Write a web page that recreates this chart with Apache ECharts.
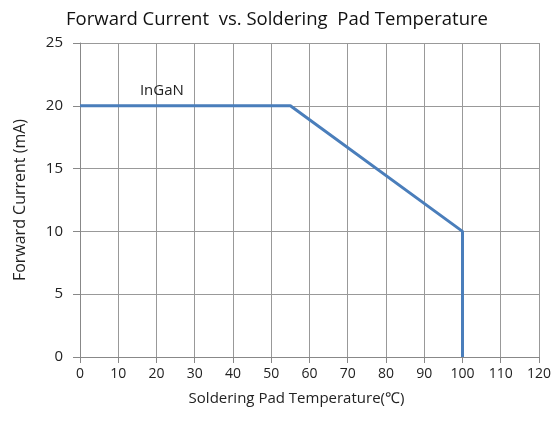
<!DOCTYPE html>
<html><head><meta charset="utf-8">
<script src="https://cdn.jsdelivr.net/npm/echarts@6/dist/echarts.min.js"></script>
<style>html,body{margin:0;padding:0;background:#fff}#c{width:554px;height:421px}</style>
</head><body><div id="c"></div>
<script>
const titleText = "Forward Current  vs. Soldering  Pad Temperature";
const xName = "Soldering Pad Temperature(\u2103)";
const yName = "Forward Current (mA)";
const seriesName = "InGaN";
const temps = [0, 55, 100, 100];
const currents = [20, 20, 10, 0];
const labelPos = [21.4, 21.2];

const chart = echarts.init(document.getElementById('c'));
const font = "'Open Sans', 'Liberation Sans', sans-serif";
chart.setOption({
  animation: false,
  title: {text: titleText, left: 'center', top: 5,
    textStyle: {fontFamily: font, fontSize: 18.5, fontWeight: 'normal', color: '#111'}},
  grid: {left: 80, right: 14, top: 43, bottom: 64},
  xAxis: {type: 'value', min: 0, max: 120, interval: 10,
    name: xName, nameLocation: 'middle', nameGap: 34,
    nameTextStyle: {fontFamily: font, fontSize: 15, color: '#222', padding: [0, 26, 0, 0]},
    axisLine: {lineStyle: {color: '#888'}},
    axisTick: {show: true, length: 6, lineStyle: {color: '#888'}},
    axisLabel: {fontFamily: font, fontSize: 14, color: '#222', margin: 10},
    splitLine: {show: true, lineStyle: {color: '#999', width: 1}}},
  yAxis: {type: 'value', min: 0, max: 25, interval: 5,
    name: yName, nameLocation: 'middle', nameGap: 52, nameRotate: 90,
    nameTextStyle: {fontFamily: font, fontSize: 16, color: '#222'},
    axisLine: {show: true, lineStyle: {color: '#888'}},
    axisTick: {show: true, length: 7, lineStyle: {color: '#888'}},
    axisLabel: {fontFamily: font, fontSize: 15, color: '#222', margin: 17},
    splitLine: {show: true, lineStyle: {color: '#999', width: 1}}},
  series: [{
    name: seriesName, type: 'line', symbol: 'none',
    data: temps.map((t, i) => [t, currents[i]]),
    lineStyle: {color: '#4a7ebb', width: 3},
    markPoint: {symbol: 'circle', symbolSize: 0, silent: true,
      label: {show: true, formatter: seriesName, fontFamily: font, fontSize: 15, color: '#222', position: 'inside'},
      data: [{coord: labelPos}]}
  }]
});
</script></body></html>
